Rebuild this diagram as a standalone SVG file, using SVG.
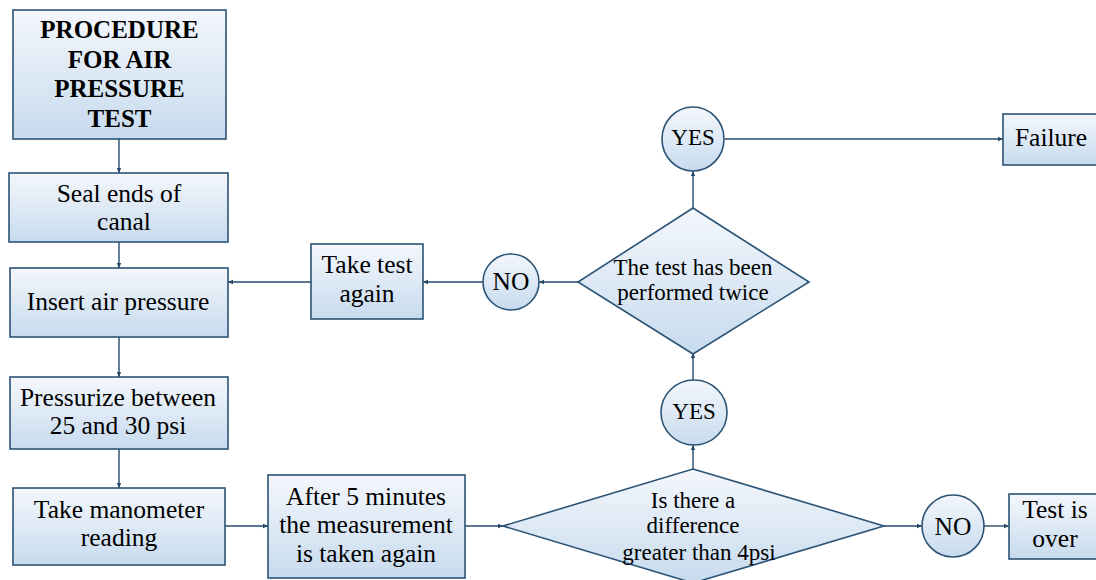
<svg xmlns="http://www.w3.org/2000/svg" width="1096" height="580" viewBox="0 0 1096 580">
<defs>
<linearGradient id="g" x1="0" y1="0" x2="0" y2="1">
<stop offset="0" stop-color="#f4f7fc"/>
<stop offset="1" stop-color="#c7dbee"/>
</linearGradient>
<marker id="ah" markerWidth="6" markerHeight="6" refX="5" refY="3" orient="auto" markerUnits="userSpaceOnUse">
<path d="M0,0.8 L5,3 L0,5.2 Z" fill="#24496b"/>
</marker>
<style>
.n{fill:url(#g);stroke:#2b5375;stroke-width:1.6}
.t{font-family:'Liberation Serif','Times New Roman',serif;font-size:25.5px;fill:#000;text-anchor:middle}
.b{font-weight:bold;font-size:25px}
.d{font-size:23px}
.c{stroke:#24496b;stroke-width:1.4;fill:none;marker-end:url(#ah)}
</style>
</defs>
<rect width="1096" height="580" fill="#fff"/>
<g id="connectors">
<line class="c" x1="119" y1="139" x2="119" y2="173"/>
<line class="c" x1="119" y1="242" x2="119" y2="268"/>
<line class="c" x1="119" y1="337" x2="119" y2="377"/>
<line class="c" x1="119" y1="449" x2="119" y2="488"/>
<line class="c" x1="225" y1="526" x2="268" y2="526"/>
<line class="c" x1="465" y1="526" x2="503" y2="526"/>
<line class="c" x1="693" y1="469" x2="693" y2="445"/>
<line class="c" x1="693" y1="380" x2="693" y2="353"/>
<line class="c" x1="693" y1="208" x2="693" y2="171"/>
<line class="c" x1="725" y1="139" x2="1003" y2="139"/>
<line class="c" x1="578" y1="282" x2="539" y2="282"/>
<line class="c" x1="483" y1="282" x2="423" y2="282"/>
<line class="c" x1="311" y1="282" x2="228" y2="282"/>
<line class="c" x1="884" y1="526" x2="922" y2="526"/>
<line class="c" x1="984" y1="526" x2="1009" y2="526"/>
</g>
<g id="title">
<rect class="n" x="13" y="10" width="213" height="129"/>
<text class="t b" x="119.5" y="38">PROCEDURE</text>
<text class="t b" x="119.5" y="68">FOR AIR</text>
<text class="t b" x="119.5" y="97">PRESSURE</text>
<text class="t b" x="119.5" y="127">TEST</text>
</g>
<g id="seal">
<rect class="n" x="9" y="173" width="219" height="69"/>
<text class="t" x="119" y="202">Seal ends of</text>
<text class="t" x="124" y="230">canal</text>
</g>
<g id="insert">
<rect class="n" x="10" y="268" width="218" height="69"/>
<text class="t" x="118" y="310">Insert air pressure</text>
</g>
<g id="pressurize">
<rect class="n" x="10" y="377" width="218" height="72"/>
<text class="t" x="118" y="406">Pressurize between</text>
<text class="t" x="118" y="434">25 and 30 psi</text>
</g>
<g id="manometer">
<rect class="n" x="13" y="488" width="212" height="77"/>
<text class="t" x="119" y="518">Take manometer</text>
<text class="t" x="119" y="546">reading</text>
</g>
<g id="after">
<rect class="n" x="268" y="475" width="197" height="103"/>
<text class="t" x="366" y="505">After 5 minutes</text>
<text class="t" x="366" y="533">the measurement</text>
<text class="t" x="366" y="562">is taken again</text>
</g>
<g id="takeagain">
<rect class="n" x="311" y="244" width="112" height="75"/>
<text class="t" x="367" y="273">Take test</text>
<text class="t" x="367" y="302">again</text>
</g>
<g id="diamond1">
<polygon class="n" points="693,469 884,526 693,583 503,526"/>
<text class="t d" x="693" y="508">Is there a</text>
<text class="t d" x="693" y="533">difference</text>
<text class="t d" x="699" y="560">greater than 4psi</text>
</g>
<g id="yes1">
<ellipse class="n" cx="694" cy="412.5" rx="33" ry="32.5"/>
<text class="t d" x="694" y="419">YES</text>
</g>
<g id="diamond2">
<polygon class="n" points="693,208 809,282 693,354 578,282"/>
<text class="t d" x="693" y="275">The test has been</text>
<text class="t d" x="693" y="300">performed twice</text>
</g>
<g id="yes2">
<ellipse class="n" cx="693" cy="139" rx="31" ry="32"/>
<text class="t d" x="693" y="145">YES</text>
</g>
<g id="failure">
<rect class="n" x="1003" y="114" width="100" height="51"/>
<text class="t" x="1051" y="146">Failure</text>
</g>
<g id="no1">
<circle class="n" cx="511" cy="282" r="28"/>
<text class="t" x="511" y="290">NO</text>
</g>
<g id="no2">
<circle class="n" cx="953" cy="526" r="31"/>
<text class="t" x="953" y="535">NO</text>
</g>
<g id="over">
<rect class="n" x="1009" y="494" width="95" height="65"/>
<text class="t" x="1055" y="518">Test is</text>
<text class="t" x="1055" y="547">over</text>
</g>
</svg>
